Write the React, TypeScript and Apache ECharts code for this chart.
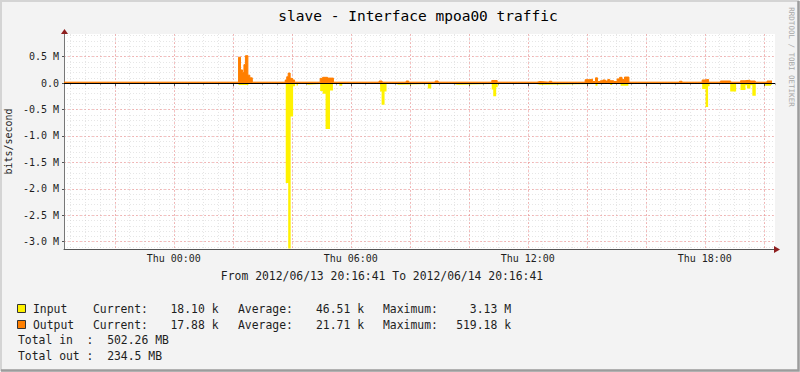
import React, { useEffect, useRef } from 'react';
import * as echarts from 'echarts';

// ---------- data ----------
const TITLE = 'slave - Interface mpoa00 traffic';
const RANGE_TEXT = 'From 2012/06/13 20:16:41 To 2012/06/14 20:16:41';
const START_H = 20 + 16 / 60 + 41 / 3600; // 2012/06/13 20:16:41, hours after midnight
const SPAN_H = 24;

// [minutes after start, kbit/s] — value holds until next point
const inputPoints: [number, number][] = [
  [0, 18], [355, 35], [375, 18], [451, 1890], [456, 3130], [461, 630], [466, 60], [470, 18],
  [473, 45], [476, 18], [493, 30], [496, 18], [521, 150], [526, 200], [532, 870], [541, 140],
  [547, 18], [560, 50], [566, 18], [643, 160], [646, 410], [652, 160], [656, 18], [676, 30],
  [680, 18], [740, 100], [747, 18], [794, 30], [800, 18], [870, 120], [873, 250], [879, 80],
  [882, 18], [962, 30], [968, 18], [1081, 50], [1085, 18], [1111, 35], [1115, 18], [1132, 50],
  [1148, 18], [1298, 110], [1305, 450], [1310, 60], [1313, 18], [1355, 160], [1367, 18],
  [1376, 130], [1386, 40], [1389, 100], [1396, 40], [1400, 240], [1407, 18], [1426, 50],
  [1438, 30], [1440, 30],
];
const outputPoints: [number, number][] = [
  [0, 18], [355, 490], [359, 250], [363, 200], [366, 350], [369, 519], [374, 150], [378, 100],
  [383, 18], [450, 60], [453, 120], [456, 190], [460, 90], [465, 60], [469, 18], [521, 90],
  [526, 110], [536, 95], [548, 18], [641, 40], [647, 18], [696, 40], [701, 18], [755, 40],
  [761, 18], [870, 50], [881, 18], [962, 30], [968, 18], [987, 35], [992, 18], [1060, 65],
  [1068, 75], [1075, 30], [1081, 100], [1085, 30], [1091, 45], [1096, 60], [1101, 40],
  [1106, 70], [1110, 45], [1118, 30], [1125, 80], [1130, 110], [1135, 70], [1140, 115],
  [1149, 18], [1252, 35], [1257, 18], [1298, 60], [1304, 70], [1311, 18], [1335, 40],
  [1356, 18], [1376, 45], [1385, 55], [1395, 40], [1406, 18], [1430, 40], [1440, 40],
];

const xTickHours = [24, 30, 36, 42];
const xTickLabels = ['Thu 00:00', 'Thu 06:00', 'Thu 12:00', 'Thu 18:00'];

const legendNames = ['Input', 'Output'];
const legendCurrent = ['18.10 k', '17.88 k'];
const legendAverage = ['46.51 k', '21.71 k'];
const legendMaximum = ['3.13 M', '519.18 k'];
const totalLines = ['Total in  :  502.26 MB', 'Total out :  234.5 MB'];

// ---------- layout / style ----------
const W = 800;
const H = 372;
const PLOT_L = 64;
const PLOT_DATA_R = 772;
const PLOT_R = 775;
const PLOT_T = 34;
const PLOT_B = 249;
const Y_MAX = 0.93;
const Y_MIN = -3.14;
const YELLOW = '#FFF200';
const ORANGE = '#FF7F00';
const MONO = '"DejaVu Sans Mono", monospace';
const TXT = '#1e1e1e';
const MAJOR = 'rgba(240,130,130,0.5)';
const MINOR = 'rgba(200,200,200,0.45)';

const pxPerH = (PLOT_DATA_R - PLOT_L) / SPAN_H;
const pxPerM = (PLOT_B - PLOT_T) / (Y_MAX - Y_MIN);
const X_MAX = START_H + SPAN_H + (PLOT_R - PLOT_DATA_R) / pxPerH;
const xPix = (h: number) => PLOT_L + (h - START_H) * pxPerH;
const yPix = (v: number) => PLOT_T + (Y_MAX - v) * pxPerM;

const toSeries = (pts: [number, number][], sign: number) =>
  pts.map(([m, v]) => [START_H + m / 60, (sign * v) / 1000]);

function text(t: string, x: number, y: number, size: number, opts: any = {}) {
  const align = opts.align || 'left';
  return {
    type: 'text',
    x,
    y,
    rotation: opts.rotation || 0,
    z: 10,
    silent: true,
    style: {
      text: t,
      fill: opts.fill || TXT,
      font: `${size}px ${MONO}`,
      textAlign: align,
      align,
      textVerticalAlign: 'middle',
      verticalAlign: 'middle',
    },
  };
}

export default function App() {
  const ref = useRef<HTMLDivElement>(null);

  useEffect(() => {
    if (!ref.current) return;
    const chart = echarts.init(ref.current, undefined, { renderer: 'svg', width: W, height: H });

    const gridBase = { right: W - PLOT_R, top: PLOT_T, bottom: H - PLOT_B };
    const hiddenParts = {
      axisLine: { show: false },
      axisTick: { show: false },
      axisLabel: { show: false },
      splitLine: { show: false },
    };

    const rowY = [309, 325];
    const legendGraphics: any[] = [];
    legendNames.forEach((name, i) => {
      legendGraphics.push({
        type: 'rect',
        z: 10,
        shape: { x: 17.5, y: rowY[i] - 4.5, width: 8, height: 8 },
        style: { fill: i === 0 ? YELLOW : ORANGE, stroke: '#333', lineWidth: 1 },
      });
      legendGraphics.push(text(name, 33, rowY[i], 11.4));
      legendGraphics.push(text('Current:', 93, rowY[i], 11.4));
      legendGraphics.push(text(legendCurrent[i], 218.5, rowY[i], 11.4, { align: 'right' }));
      legendGraphics.push(text('Average:', 238, rowY[i], 11.4));
      legendGraphics.push(text(legendAverage[i], 364, rowY[i], 11.4, { align: 'right' }));
      legendGraphics.push(text('Maximum:', 383, rowY[i], 11.4));
      legendGraphics.push(text(legendMaximum[i], 511, rowY[i], 11.4, { align: 'right' }));
    });
    totalLines.forEach((t, i) => legendGraphics.push(text(t, 18, 340 + i * 16, 11.4)));

    chart.setOption({
      animation: false,
      backgroundColor: '#F3F3F3',
      grid: [
        { ...gridBase, left: PLOT_L, show: true, backgroundColor: '#FFFFFF', borderWidth: 0 },
        { ...gridBase, left: xPix(20.5) },
        { ...gridBase, left: xPix(22) },
        { left: PLOT_L, right: W - PLOT_R, top: yPix(0.9), bottom: H - yPix(-3.1) },
        { left: PLOT_L, right: W - PLOT_R, top: yPix(0.5), bottom: H - yPix(-3.0) },
      ],
      xAxis: [
        {
          gridIndex: 0, type: 'value', min: START_H, max: X_MAX,
          ...hiddenParts,
          axisLine: { show: true, onZero: false, lineStyle: { color: '#555', width: 1 } },
        },
        {
          gridIndex: 1, type: 'value', min: 20.5, max: X_MAX, interval: 0.5,
          ...hiddenParts,
          axisTick: { show: true, length: 2, lineStyle: { color: '#aaa' } },
          splitLine: { show: true, showMaxLine: false, lineStyle: { color: MINOR, type: [1, 2], width: 1 } },
        },
        {
          gridIndex: 2, type: 'value', min: 22, max: X_MAX, interval: 2,
          ...hiddenParts,
          axisTick: { show: true, length: 3, lineStyle: { color: '#555' } },
          axisLabel: {
            show: true, interval: 0, margin: 4, showMaxLabel: false,
            fontFamily: MONO, fontSize: 10, color: TXT,
            formatter: (v: number) => {
              const idx = xTickHours.findIndex((h) => Math.abs(h - v) < 1e-6);
              return idx >= 0 ? xTickLabels[idx] : '';
            },
          },
          splitLine: { show: true, showMaxLine: false, lineStyle: { color: MAJOR, type: [2, 2], width: 1 } },
        },
        { gridIndex: 3, type: 'value', min: START_H, max: X_MAX, show: false },
        { gridIndex: 4, type: 'value', min: START_H, max: X_MAX, show: false },
      ],
      yAxis: [
        {
          gridIndex: 0, type: 'value', min: Y_MIN, max: Y_MAX,
          ...hiddenParts,
          axisLine: { show: true, onZero: false, lineStyle: { color: '#777', width: 1 } },
        },
        { gridIndex: 1, type: 'value', min: Y_MIN, max: Y_MAX, ...hiddenParts },
        { gridIndex: 2, type: 'value', min: Y_MIN, max: Y_MAX, ...hiddenParts },
        {
          gridIndex: 3, type: 'value', min: -3.1, max: 0.9, interval: 0.1,
          ...hiddenParts,
          splitLine: { show: true, lineStyle: { color: MINOR, type: [1, 2], width: 1 } },
        },
        {
          gridIndex: 4, type: 'value', min: -3.0, max: 0.5, interval: 0.5,
          ...hiddenParts,
          axisTick: { show: true, length: 2, lineStyle: { color: '#555' } },
          axisLabel: {
            show: true, margin: 5, fontFamily: MONO, fontSize: 10, color: TXT,
            formatter: (v: number) => (Math.abs(v) < 1e-9 ? '0.0' : v.toFixed(1) + ' M'),
          },
          splitLine: { show: true, lineStyle: { color: MAJOR, type: [2, 2], width: 1 } },
        },
      ],
      series: [
        {
          type: 'line', name: 'Input', xAxisIndex: 0, yAxisIndex: 0,
          step: 'end', symbol: 'none', silent: true, z: 3,
          data: toSeries(inputPoints, -1),
          lineStyle: { width: 0, color: YELLOW },
          itemStyle: { color: YELLOW },
          areaStyle: { color: YELLOW, opacity: 1 },
        },
        {
          type: 'line', name: 'Output', xAxisIndex: 0, yAxisIndex: 0,
          step: 'end', symbol: 'none', silent: true, z: 4,
          data: toSeries(outputPoints, 1),
          lineStyle: { width: 1, color: ORANGE },
          itemStyle: { color: ORANGE },
          areaStyle: { color: ORANGE, opacity: 1 },
          markLine: {
            silent: true, symbol: ['none', 'none'], animation: false,
            label: { show: false },
            lineStyle: { color: '#000', width: 1, type: 'solid' },
            data: [{ yAxis: 0 }],
          },
        },
      ],
      graphic: [
        // 3D frame
        { type: 'polyline', z: 10, shape: { points: [[1, H - 1], [1, 1], [W - 1, 1]] }, style: { stroke: '#D4D4D4', lineWidth: 2, fill: null } },
        { type: 'polyline', z: 10, shape: { points: [[1, H - 1.5], [W - 1.5, H - 1.5], [W - 1.5, 1]] }, style: { stroke: '#9C9C9C', lineWidth: 2.5, fill: null } },
        // arrows
        { type: 'polygon', z: 10, shape: { points: [[PLOT_L - 3, PLOT_T], [PLOT_L + 0.5, PLOT_T - 5], [PLOT_L + 4, PLOT_T]] }, style: { fill: '#8E1E1E' } },
        { type: 'polygon', z: 10, shape: { points: [[PLOT_R - 1, PLOT_B - 3], [PLOT_R + 5, PLOT_B + 0.5], [PLOT_R - 1, PLOT_B + 4]] }, style: { fill: '#8E1E1E' } },
        text(TITLE, 418, 16, 14.5, { align: 'center', fill: '#000' }),
        text('RRDTOOL / TOBI OETIKER', 791, 57, 7.5, { align: 'center', fill: '#A8A8A8', rotation: -Math.PI / 2 }),
        text('bits/second', 8.5, 141.5, 10, { align: 'center', rotation: Math.PI / 2 }),
        text(RANGE_TEXT, 382, 276, 11.4, { align: 'center' }),
        ...legendGraphics,
      ],
    });

    return () => chart.dispose();
  }, []);

  return (
    <div
      ref={ref}
      style={{ position: 'fixed', left: 0, top: 0, width: W, height: H }}
    />
  );
}
